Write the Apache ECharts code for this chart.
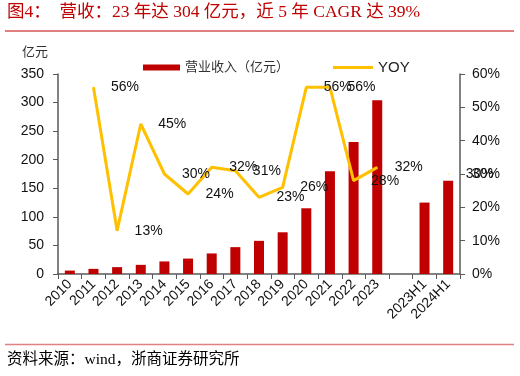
<!DOCTYPE html>
<html>
<head>
<meta charset="utf-8">
<script src="https://cdn.jsdelivr.net/npm/echarts@6/dist/echarts.min.js"></script>
<style>
  html, body { margin: 0; padding: 0; background: #fff; }
  #main { width: 520px; height: 376px; }
</style>
</head>
<body>
<div id="main"></div>
<script>
// 数据
var categories = ['2010', '2011', '2012', '2013', '2014', '2015', '2016', '2017', '2018', '2019', '2020', '2021', '2022', '2023', '', '2023H1', '2024H1'];
var revenue = [6, 9, 12, 16, 22, 27, 36, 47, 58, 73, 115, 180, 231, 304, null, 125, 163];
var yoy = [null, 56, 13, 45, 30, 24, 32, 31, 23, 26, 56, 56, 28, 32, null, null, 30];
var leftTicks = [0, 350, 50];
var rightTicks = [0, 60, 10];

var fontSans = 'Liberation Sans, Arial, Noto Sans CJK SC, sans-serif';
var fontSerif = 'Liberation Serif, Times New Roman, Noto Sans CJK SC, serif';
var axisColor = '#595959';

var chart = echarts.init(document.getElementById('main'));

chart.setOption({
    animation: false,
    backgroundColor: '#fff',
    grid: { left: 58, right: 60, top: 74, bottom: 102 },
    graphic: [
        { type: 'text', left: 7, top: 4, style: { text: '图4：  营收：23 年达 304 亿元，近 5 年 CAGR 达 39%', fill: '#C00000', font: '17.5px ' + fontSerif } },
        { type: 'line', shape: { x1: 5, y1: 31, x2: 514, y2: 31 }, style: { stroke: '#C00000', lineWidth: 1 } },
        { type: 'text', left: 22, top: 46, style: { text: '亿元', fill: '#333', font: '13px ' + fontSerif } },
        { type: 'line', shape: { x1: 5, y1: 344.5, x2: 514, y2: 344.5 }, style: { stroke: '#E08080', lineWidth: 1.5 } },
        { type: 'text', left: 7, top: 352, style: { text: '资料来源：wind，浙商证券研究所', fill: '#000', font: '15.5px ' + fontSerif } }
    ],
    legend: [
        {
            data: ['营业收入（亿元）'], left: 138, top: 56,
            itemWidth: 37, itemHeight: 6, icon: 'rect',
            textStyle: { fontSize: 13, color: '#333', fontFamily: fontSerif }
        },
        {
            data: ['YOY'], left: 328, top: 55,
            itemWidth: 40, itemHeight: 3, icon: 'rect',
            textStyle: { fontSize: 15, color: '#222', fontFamily: fontSans }
        }
    ],
    xAxis: {
        type: 'category',
        data: categories,
        axisLine: { lineStyle: { color: axisColor, width: 1.5 } },
        axisTick: { show: true, length: 5, alignWithLabel: false, interval: 0, lineStyle: { color: axisColor } },
        axisLabel: { interval: 0, rotate: 45, margin: 8, fontSize: 14, color: '#111', fontFamily: fontSans }
    },
    yAxis: [
        {
            type: 'value', min: leftTicks[0], max: leftTicks[1], interval: leftTicks[2],
            splitLine: { show: false },
            axisLine: { show: true, lineStyle: { color: axisColor, width: 1.5 } },
            axisTick: { show: true, length: 5, lineStyle: { color: axisColor } },
            axisLabel: { fontSize: 14, color: '#111', margin: 14, fontFamily: fontSans }
        },
        {
            type: 'value', min: rightTicks[0], max: rightTicks[1], interval: rightTicks[2],
            splitLine: { show: false },
            axisLine: { show: true, lineStyle: { color: axisColor, width: 1.5 } },
            axisTick: { show: true, length: 5, lineStyle: { color: axisColor } },
            axisLabel: { fontSize: 14, color: '#111', margin: 12, fontFamily: fontSans, formatter: '{value}%' }
        }
    ],
    series: [
        {
            name: '营业收入（亿元）',
            type: 'bar',
            barWidth: 10,
            itemStyle: { color: '#C00000' },
            data: revenue
        },
        {
            name: 'YOY',
            type: 'line',
            yAxisIndex: 1,
            symbol: 'circle',
            symbolSize: 1,
            itemStyle: { color: '#FFC000' },
            lineStyle: { color: '#FFC000', width: 3 },
            label: {
                show: true, position: 'right', distance: 17,
                fontSize: 14, color: '#111', fontFamily: fontSans,
                formatter: function (p) { return Math.round(p.value) + '%'; }
            },
            data: yoy
        }
    ]
});
</script>
</body>
</html>
